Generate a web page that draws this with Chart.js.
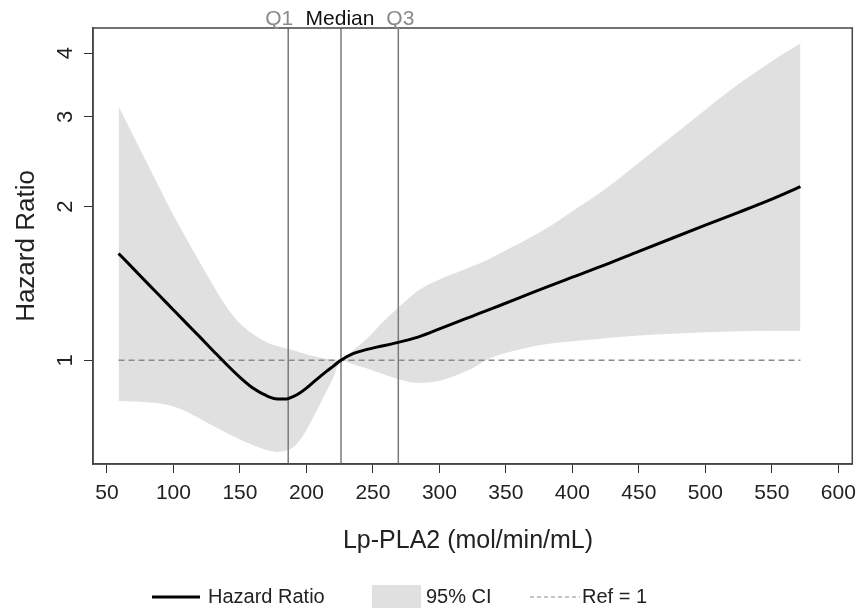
<!DOCTYPE html>
<html><head><meta charset="utf-8">
<script src="https://cdn.jsdelivr.net/npm/chart.js@4/dist/chart.umd.min.js"></script>
<style>html,body{margin:0;padding:0;background:#fff}#wrap{width:864px;height:610px}</style>
</head><body><div id="wrap"><canvas id="c" width="864" height="610"></canvas></div>
<script>
// ---- data ----
const lpPla2 = [58.7, 70, 80, 90, 100, 110, 120, 130, 140, 150, 160, 170, 178, 185, 190, 195, 200, 205, 210, 215, 220, 226, 235, 245, 255, 265, 275, 285, 300, 315, 325, 335, 345, 360, 380, 400, 425, 450, 475, 500, 525, 550, 571.5];
const hazardRatio = [1.62, 1.511, 1.42, 1.335, 1.255, 1.18, 1.11, 1.043, 0.981, 0.926, 0.881, 0.852, 0.840, 0.840, 0.849, 0.863, 0.882, 0.905, 0.928, 0.951, 0.973, 1.0, 1.03, 1.049, 1.064, 1.078, 1.094, 1.113, 1.152, 1.193, 1.221, 1.25, 1.279, 1.325, 1.39, 1.455, 1.54, 1.635, 1.735, 1.84, 1.95, 2.07, 2.19];
const ciUpper = [3.15, 2.75, 2.44, 2.165, 1.925, 1.728, 1.554, 1.40, 1.27, 1.18, 1.125, 1.085, 1.066, 1.055, 1.046, 1.037, 1.028, 1.02, 1.013, 1.007, 1.003, 1.0, 1.045, 1.10, 1.17, 1.24, 1.31, 1.375, 1.44, 1.493, 1.53, 1.568, 1.618, 1.694, 1.81, 1.96, 2.17, 2.44, 2.75, 3.10, 3.48, 3.86, 4.18];
const ciLower = [0.832, 0.830, 0.827, 0.823, 0.812, 0.793, 0.768, 0.743, 0.72, 0.699, 0.681, 0.667, 0.661, 0.665, 0.675, 0.697, 0.73, 0.771, 0.818, 0.868, 0.922, 1.0, 0.982, 0.965, 0.945, 0.925, 0.91, 0.903, 0.912, 0.94, 0.965, 1.0, 1.025, 1.05, 1.075, 1.09, 1.105, 1.118, 1.127, 1.135, 1.14, 1.142, 1.143];
const quartileLabels = ['Q1', 'Median', 'Q3'];
const quartileValues = [186.3, 226, 269.1];
const refValue = 1;
const xTicks = [50, 100, 150, 200, 250, 300, 350, 400, 450, 500, 550, 600];
const yTicks = [1, 2, 3, 4];
const xRange = [39.5, 610.5];
const yRange = [0.626, 4.483];
const xTitle = 'Lp-PLA2 (mol/min/mL)';
const yTitle = 'Hazard Ratio';
const legendLabels = ['Hazard Ratio', '95% CI', 'Ref = 1'];

const FONT = '"Liberation Sans", Arial, sans-serif';
const pts = (ys) => lpPla2.map((x, i) => ({x, y: ys[i]}));

const datasets = [
  {label: legendLabels[0], data: pts(hazardRatio), borderColor: '#000', borderWidth: 3, pointRadius: 0, showLine: true, cubicInterpolationMode: 'monotone', fill: false, order: 0},
  {label: legendLabels[2], data: [{x: lpPla2[0], y: refValue}, {x: lpPla2[lpPla2.length - 1], y: refValue}], borderColor: '#8a8a8a', borderWidth: 1.3, borderDash: [6, 4], pointRadius: 0, showLine: true, fill: false, order: 1}
];
quartileValues.forEach((q, i) => datasets.push({label: quartileLabels[i], data: [{x: q, y: yRange[0]}, {x: q, y: yRange[1]}], borderColor: '#7a7a7a', borderWidth: 1.5, pointRadius: 0, showLine: true, fill: false, order: 2}));
datasets.push({label: legendLabels[1], data: pts(ciUpper), borderColor: 'rgba(0,0,0,0)', borderWidth: 0, backgroundColor: '#e0e0e0', pointRadius: 0, showLine: true, cubicInterpolationMode: 'monotone', fill: '+1', order: 3});
datasets.push({label: 'lower', data: pts(ciLower), borderColor: 'rgba(0,0,0,0)', borderWidth: 0, pointRadius: 0, showLine: true, cubicInterpolationMode: 'monotone', fill: false, order: 3});

const labelShift = [-9, -1, 2];

const decor = {
  id: 'decor',
  afterDraw(chart) {
    const {ctx, chartArea: a, scales: {x, y}} = chart;
    ctx.save();
    ctx.strokeStyle = '#444'; ctx.lineWidth = 1.5;
    ctx.strokeRect(a.left, a.top, a.right - a.left, a.bottom - a.top);
    ctx.fillStyle = '#222'; ctx.font = '22px ' + FONT;
    ctx.textAlign = 'center'; ctx.textBaseline = 'middle';
    yTicks.forEach(v => {
      const py = y.getPixelForValue(v);
      ctx.save(); ctx.translate(66, py); ctx.rotate(-Math.PI / 2); ctx.fillText(String(v), 0, 0); ctx.restore();
    });
    ctx.font = '21px ' + FONT; ctx.textBaseline = 'middle';
    quartileValues.forEach((q, i) => {
      ctx.fillStyle = quartileLabels[i] === 'Median' ? '#111' : '#8a8a8a';
      ctx.fillText(quartileLabels[i], x.getPixelForValue(q) + labelShift[i], 19);
    });
    ctx.fillStyle = '#222';
    ctx.font = '25px ' + FONT;
    ctx.fillText(xTitle, 468, 541);
    ctx.font = '26px ' + FONT;
    ctx.save(); ctx.translate(27, (a.top + a.bottom) / 2); ctx.rotate(-Math.PI / 2); ctx.fillText(yTitle, 0, 0); ctx.restore();
    const ly = 597;
    ctx.font = '20px ' + FONT; ctx.textAlign = 'left'; ctx.fillStyle = '#222';
    ctx.strokeStyle = '#000'; ctx.lineWidth = 3; ctx.setLineDash([]);
    ctx.beginPath(); ctx.moveTo(152, ly); ctx.lineTo(200, ly); ctx.stroke();
    ctx.fillText(legendLabels[0], 208, ly);
    ctx.fillStyle = '#e0e0e0'; ctx.fillRect(372, 585, 49, 23);
    ctx.fillStyle = '#222'; ctx.fillText(legendLabels[1], 426, ly);
    ctx.strokeStyle = '#8a8a8a'; ctx.lineWidth = 1.2; ctx.setLineDash([4, 3]);
    ctx.beginPath(); ctx.moveTo(530, ly); ctx.lineTo(580, ly); ctx.stroke();
    ctx.setLineDash([]);
    ctx.fillText(legendLabels[2], 582, ly);
    ctx.restore();
  }
};

new Chart(document.getElementById('c'), {
  type: 'scatter',
  data: {datasets},
  options: {
    responsive: false, animation: false, devicePixelRatio: 1,
    layout: {padding: {left: 0, top: 28, right: 8, bottom: 0}},
    plugins: {legend: {display: false}, tooltip: {enabled: false}, filler: {propagate: false}},
    scales: {
      x: {
        type: 'linear', bounds: 'data', min: xRange[0], max: xRange[1],
        afterBuildTicks: s => { s.ticks = xTicks.map(v => ({value: v})); },
        afterFit: s => { s.height = 146; },
        ticks: {color: '#222', font: {family: FONT, size: 21}, padding: 8, maxRotation: 0, autoSkip: false, callback: v => String(v)},
        grid: {drawOnChartArea: false, drawTicks: true, tickLength: 9, color: '#333', lineWidth: 1},
        border: {display: true, color: '#444', width: 1.5}
      },
      y: {
        type: 'logarithmic', bounds: 'data', min: yRange[0], max: yRange[1],
        afterBuildTicks: s => { s.ticks = yTicks.map(v => ({value: v})); },
        afterFit: s => { s.width = 93; },
        ticks: {display: false},
        grid: {drawOnChartArea: false, drawTicks: true, tickLength: 9, color: '#333', lineWidth: 1},
        border: {display: true, color: '#444', width: 1.5}
      }
    }
  },
  plugins: [decor]
});
</script></body></html>
